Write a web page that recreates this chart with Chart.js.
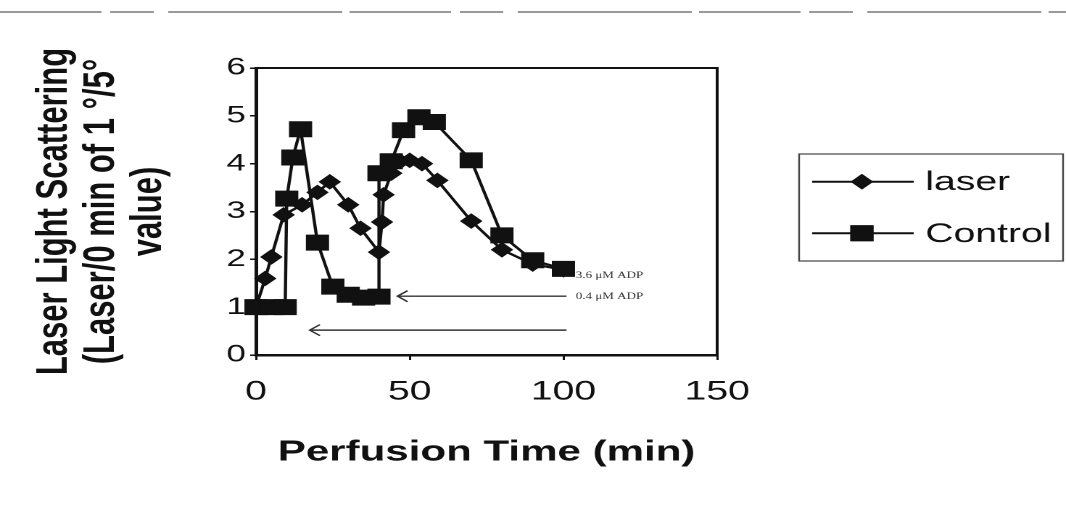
<!DOCTYPE html>
<html>
<head>
<meta charset="utf-8">
<script src="https://cdn.jsdelivr.net/npm/chart.js@4.4.1/dist/chart.umd.min.js"></script>
<style>
  html, body { margin: 0; padding: 0; background: #fff; overflow: hidden; }
  #wrap { width: 1066px; height: 510px; overflow: hidden; }
  /* the scanned figure is stretched sideways, so the whole canvas is too */
  #chart { transform: scaleX(1.4503); transform-origin: 0 0; }
</style>
</head>
<body>
<div id="wrap"><canvas id="chart" width="735" height="510"></canvas></div>
<script>
const seriesNames = ['laser', 'Control'];

const laserTime  = [0, 3, 5, 9, 15, 20, 24, 30, 34, 40, 41, 41.5, 44, 47, 50, 54, 59, 70, 80, 90, 100];
const laserValue = [1.0, 1.6, 2.05, 2.93, 3.14, 3.4, 3.62, 3.14, 2.65, 2.15, 2.78, 3.35, 3.8, 4.05, 4.07, 4.0, 3.65, 2.8, 2.2, 1.9, 1.78];

const controlTime  = [0, 5, 9.5, 10, 12, 14.5, 20, 25, 30, 35, 40, 40, 44, 48, 53, 58, 70, 80, 90, 100];
const controlValue = [1.0, 1.0, 1.0, 3.27, 4.13, 4.72, 2.35, 1.43, 1.26, 1.2, 1.22, 3.8, 4.05, 4.7, 4.97, 4.87, 4.07, 2.5, 1.98, 1.8];

const xTicks = [0, 50, 100, 150];
const yTicks = [0, 1, 2, 3, 4, 5, 6];

// ADP arrows (data units)
const arrowFrom  = [101, 101];
const arrowTo    = [46, 17.5];
const arrowLevel = [1.23, 0.52];
const noteText = ['3.6 \u03bcM ADP', '0.4 \u03bcM ADP'];
const noteX = [104, 104];
const noteY = [1.66, 1.22];

const yTitle = ['Laser Light Scattering', '(Laser/0 min of 1 \u00b0/5\u00b0', 'value)'];
const xTitle = 'Perfusion Time (min)';

const toPoints = (xs, ys) => xs.map((x, i) => ({x: x, y: ys[i]}));

const styles = [
  {pointStyle: 'rectRot', radius: 7.8},
  {pointStyle: 'rect', radius: 11.3}
];

const extras = {
  id: 'extras',
  beforeDatasetsDraw(chart) {
    const {ctx, chartArea: a} = chart;
    ctx.save();
    ctx.strokeStyle = '#111';
    ctx.lineWidth = 2;
    ctx.strokeRect(a.left, a.top, a.right - a.left, a.bottom - a.top);
    ctx.restore();
  },
  afterDatasetsDraw(chart) {
    const {ctx} = chart;
    const xs = chart.scales.x, ys = chart.scales.y;
    ctx.save();
    ctx.strokeStyle = '#333';
    ctx.lineWidth = 1.4;
    arrowFrom.forEach((from, i) => {
      const x1 = xs.getPixelForValue(from);
      const x2 = xs.getPixelForValue(arrowTo[i]);
      const y = ys.getPixelForValue(arrowLevel[i]);
      ctx.beginPath();
      ctx.moveTo(x1, y);
      ctx.lineTo(x2, y);
      ctx.moveTo(x2 + 7, y - 5.5);
      ctx.lineTo(x2, y);
      ctx.lineTo(x2 + 7, y + 5.5);
      ctx.stroke();
    });
    ctx.fillStyle = '#333';
    ctx.font = '9px "Liberation Serif"';
    ctx.textBaseline = 'middle';
    noteText.forEach((t, i) => {
      ctx.fillText(t, xs.getPixelForValue(noteX[i]), ys.getPixelForValue(noteY[i]));
    });
    ctx.restore();
  },
  afterDraw(chart) {
    const {ctx} = chart;
    ctx.save();
    // legend box, entries in series order
    ctx.strokeStyle = '#444';
    ctx.lineWidth = 1.2;
    ctx.strokeRect(551, 154, 182, 107);
    seriesNames.forEach((name, i) => {
      const ds = chart.data.datasets.find(d => d.label === name);
      const y = [181.7, 233.3][i];
      ctx.strokeStyle = '#111';
      ctx.lineWidth = 2;
      ctx.beginPath();
      ctx.moveTo(560, y);
      ctx.lineTo(630, y);
      ctx.stroke();
      ctx.fillStyle = '#111';
      Chart.helpers.drawPoint(ctx, {pointStyle: ds.pointStyle, radius: ds.pointRadius, rotation: 0, borderWidth: 0}, 594.3, y);
      ctx.fill();
      ctx.font = '27px "Liberation Sans"';
      ctx.textBaseline = 'middle';
      ctx.fillText(name, 638, y + 1);
    });
    // scan line along the top edge
    ctx.strokeStyle = '#777';
    ctx.lineWidth = 1.5;
    ctx.setLineDash([70, 6, 30, 10, 120, 5]);
    ctx.beginPath();
    ctx.moveTo(0, 12);
    ctx.lineTo(735, 12);
    ctx.stroke();
    ctx.restore();
  }
};

new Chart(document.getElementById('chart'), {
  type: 'line',
  data: {
    datasets: [
      {
        label: seriesNames[1],
        data: toPoints(controlTime, controlValue),
        order: 0,
        pointStyle: styles[1].pointStyle,
        pointRadius: styles[1].radius,
        borderColor: '#111',
        backgroundColor: '#111',
        pointBackgroundColor: '#111',
        pointBorderWidth: 0,
        borderWidth: 2.2,
        tension: 0,
        clip: false
      },
      {
        label: seriesNames[0],
        data: toPoints(laserTime, laserValue),
        order: 1,
        pointStyle: styles[0].pointStyle,
        pointRadius: styles[0].radius,
        borderColor: '#111',
        backgroundColor: '#111',
        pointBackgroundColor: '#111',
        pointBorderWidth: 0,
        borderWidth: 2.2,
        tension: 0,
        clip: false
      }
    ]
  },
  options: {
    responsive: false,
    animation: false,
    devicePixelRatio: 2,
    layout: {padding: {top: 68, right: 240.5, bottom: 0, left: 0}},
    plugins: {legend: {display: false}, tooltip: {enabled: false}},
    scales: {
      x: {
        type: 'linear',
        min: 0,
        max: 150,
        afterBuildTicks: s => { s.ticks = xTicks.map(v => ({value: v})); },
        afterFit: s => { s.height = 155; },
        ticks: {color: '#111', padding: 16, font: {family: 'Liberation Sans', size: 27}},
        grid: {display: true, drawOnChartArea: false, drawTicks: true, tickLength: 5, color: '#111', lineWidth: 1.5},
        border: {display: true, color: '#111', width: 2.5},
        title: {
          display: true,
          text: xTitle,
          color: '#111',
          padding: {top: 0, bottom: 40},
          font: {family: 'Liberation Sans', size: 29, weight: 'bold'}
        }
      },
      y: {
        min: 0,
        max: 6,
        afterBuildTicks: s => { s.ticks = yTicks.map(v => ({value: v})); },
        afterFit: s => { s.width = 176.5; },
        ticks: {color: '#111', padding: 3, font: {family: 'Liberation Sans', size: 24}},
        grid: {display: true, drawOnChartArea: false, drawTicks: true, tickLength: 4, color: '#111', lineWidth: 1.5},
        border: {display: true, color: '#111', width: 2.5},
        title: {
          display: true,
          text: yTitle,
          color: '#111',
          padding: {top: 21.5, bottom: 0},
          font: {family: 'Liberation Sans', size: 31, weight: 'bold', lineHeight: 1.045}
        }
      }
    }
  },
  plugins: [extras]
});
</script>
</body>
</html>
